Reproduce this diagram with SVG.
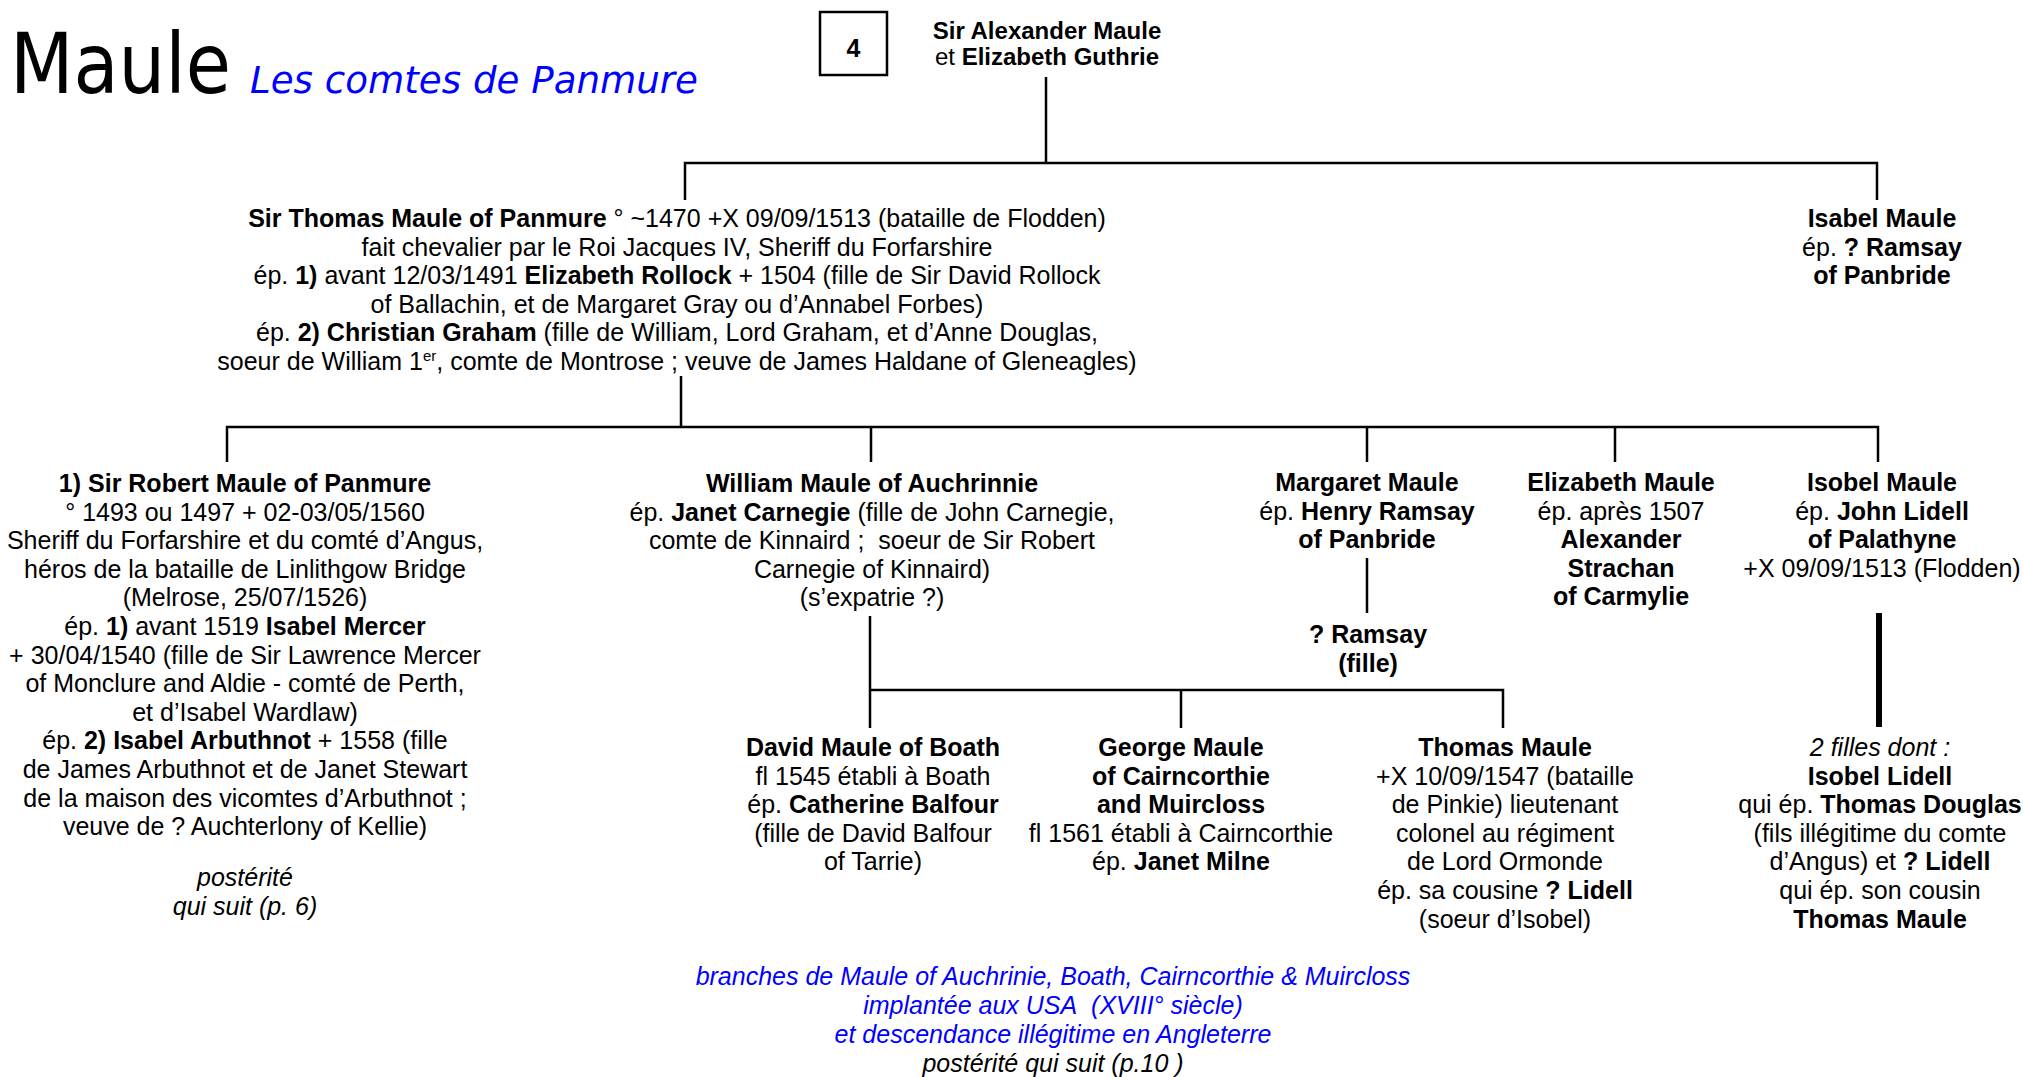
<svg xmlns="http://www.w3.org/2000/svg" width="2023" height="1077" viewBox="0 0 2023 1077">
  <style>
    .t { font-family: "Liberation Sans", Arial, sans-serif; font-size: 25px; text-anchor: middle; fill: #000; }
    .top { font-size: 24px; }
    .b { font-weight: bold; }
    .i { font-style: italic; }
    .blue { fill: #0000FF; }
    .ln { stroke: #000; stroke-width: 2.5; fill: none; }
    .thick { stroke: #000; stroke-width: 6; fill: none; }
    .sup { font-size: 15px; }
  </style>

  <!-- heading -->
  <g id="heading">
    <text x="10" y="93" font-family="'DejaVu Sans', sans-serif" font-size="84" textLength="221" lengthAdjust="spacingAndGlyphs" fill="#000">Maule</text>
    <text x="250" y="93" font-family="'DejaVu Sans', sans-serif" font-size="38" font-style="italic" textLength="448" lengthAdjust="spacingAndGlyphs" fill="#0000FF">Les comtes de Panmure</text>
  </g>

  <!-- page number box -->
  <g id="page-box">
    <rect x="820" y="12" width="67" height="63" fill="none" stroke="#000" stroke-width="2.5"/>
    <text class="t b" x="853.5" y="57" font-size="32">4</text>
  </g>

  <!-- connectors -->
  <g id="connectors">
    <path class="ln" d="M1046,77 V163"/>
    <path class="ln" d="M685,200 V163 H1877 V200"/>
    <path class="ln" d="M681,376 V427"/>
    <path class="ln" d="M227,462 V427 H1878 V462"/>
    <path class="ln" d="M871,427 V462 M1367,427 V462 M1615,427 V462"/>
    <path class="ln" d="M1367,558 V613"/>
    <path class="ln" d="M870,616 V728 M870,690 H1503 V728 M1181,690 V728"/>
    <path class="thick" d="M1879,613 V727"/>
  </g>

  <g id="alexander">
    <text class="t top" x="1047" y="39"><tspan class="b">Sir Alexander Maule</tspan></text>
    <text class="t top" x="1047" y="65">et <tspan class="b">Elizabeth Guthrie</tspan></text>
  </g>

  <g id="thomas-panmure">
    <text class="t" x="677" y="227"><tspan class="b">Sir Thomas Maule of Panmure</tspan> ° ~1470 +X 09/09/1513 (bataille de Flodden)</text>
    <text class="t" x="677" y="255.5">fait chevalier par le Roi Jacques IV, Sheriff du Forfarshire</text>
    <text class="t" x="677" y="284">ép. <tspan class="b">1)</tspan> avant 12/03/1491 <tspan class="b">Elizabeth Rollock</tspan> + 1504 (fille de Sir David Rollock</text>
    <text class="t" x="677" y="312.5">of Ballachin, et de Margaret Gray ou d’Annabel Forbes)</text>
    <text class="t" x="677" y="341">ép. <tspan class="b">2) Christian Graham</tspan> (fille de William, Lord Graham, et d’Anne Douglas,</text>
    <text class="t" x="677" y="369.5">soeur de William 1<tspan class="sup" dy="-9">er</tspan><tspan dy="9">, comte de Montrose ; veuve de James Haldane of Gleneagles)</tspan></text>
  </g>

  <g id="isabel-maule">
    <text class="t b" x="1882" y="227">Isabel Maule</text>
    <text class="t" x="1882" y="255.5">ép. <tspan class="b">? Ramsay</tspan></text>
    <text class="t b" x="1882" y="284">of Panbride</text>
  </g>

  <g id="robert-maule">
    <text class="t b" x="245" y="492">1) Sir Robert Maule of Panmure</text>
    <text class="t" x="245" y="520.6">° 1493 ou 1497 + 02-03/05/1560</text>
    <text class="t" x="245" y="549.2">Sheriff du Forfarshire et du comté d’Angus,</text>
    <text class="t" x="245" y="577.8">héros de la bataille de Linlithgow Bridge</text>
    <text class="t" x="245" y="606.4">(Melrose, 25/07/1526)</text>
    <text class="t" x="245" y="635">ép. <tspan class="b">1)</tspan> avant 1519 <tspan class="b">Isabel Mercer</tspan></text>
    <text class="t" x="245" y="663.6">+ 30/04/1540 (fille de Sir Lawrence Mercer</text>
    <text class="t" x="245" y="692.2">of Monclure and Aldie - comté de Perth,</text>
    <text class="t" x="245" y="720.8">et d’Isabel Wardlaw)</text>
    <text class="t" x="245" y="749.4">ép. <tspan class="b">2) Isabel Arbuthnot</tspan> + 1558 (fille</text>
    <text class="t" x="245" y="778">de James Arbuthnot et de Janet Stewart</text>
    <text class="t" x="245" y="806.6">de la maison des vicomtes d’Arbuthnot ;</text>
    <text class="t" x="245" y="835.2">veuve de ? Auchterlony of Kellie)</text>
    <text class="t i" x="245" y="886">postérité</text>
    <text class="t i" x="245" y="914.5">qui suit (p. 6)</text>
  </g>

  <g id="william-maule">
    <text class="t b" x="872" y="492">William Maule of Auchrinnie</text>
    <text class="t" x="872" y="520.6">ép. <tspan class="b">Janet Carnegie</tspan> (fille de John Carnegie,</text>
    <text class="t" x="872" y="549.2">comte de Kinnaird ;&#160; soeur de Sir Robert</text>
    <text class="t" x="872" y="577.8">Carnegie of Kinnaird)</text>
    <text class="t" x="872" y="606.4">(s’expatrie ?)</text>
  </g>

  <g id="margaret-maule">
    <text class="t b" x="1367" y="491">Margaret Maule</text>
    <text class="t" x="1367" y="519.6">ép. <tspan class="b">Henry Ramsay</tspan></text>
    <text class="t b" x="1367" y="548.2">of Panbride</text>
  </g>

  <g id="ramsay-fille">
    <text class="t b" x="1368" y="643">? Ramsay</text>
    <text class="t b" x="1368" y="671.6">(fille)</text>
  </g>

  <g id="elizabeth-maule">
    <text class="t b" x="1621" y="491">Elizabeth Maule</text>
    <text class="t" x="1621" y="519.6">ép. après 1507</text>
    <text class="t b" x="1621" y="548.2">Alexander</text>
    <text class="t b" x="1621" y="576.8">Strachan</text>
    <text class="t b" x="1621" y="605.4">of Carmylie</text>
  </g>

  <g id="isobel-maule">
    <text class="t b" x="1882" y="491">Isobel Maule</text>
    <text class="t" x="1882" y="519.6">ép. <tspan class="b">John Lidell</tspan></text>
    <text class="t b" x="1882" y="548.2">of Palathyne</text>
    <text class="t" x="1882" y="576.8">+X 09/09/1513 (Flodden)</text>
  </g>

  <g id="david-maule">
    <text class="t b" x="873" y="756">David Maule of Boath</text>
    <text class="t" x="873" y="784.6">fl 1545 établi à Boath</text>
    <text class="t" x="873" y="813.2">ép. <tspan class="b">Catherine Balfour</tspan></text>
    <text class="t" x="873" y="841.8">(fille de David Balfour</text>
    <text class="t" x="873" y="870.4">of Tarrie)</text>
  </g>

  <g id="george-maule">
    <text class="t b" x="1181" y="756">George Maule</text>
    <text class="t b" x="1181" y="784.6">of Cairncorthie</text>
    <text class="t b" x="1181" y="813.2">and Muircloss</text>
    <text class="t" x="1181" y="841.8">fl 1561 établi à Cairncorthie</text>
    <text class="t" x="1181" y="870.4">ép. <tspan class="b">Janet Milne</tspan></text>
  </g>

  <g id="thomas-maule">
    <text class="t b" x="1505" y="756">Thomas Maule</text>
    <text class="t" x="1505" y="784.6">+X 10/09/1547 (bataille</text>
    <text class="t" x="1505" y="813.2">de Pinkie) lieutenant</text>
    <text class="t" x="1505" y="841.8">colonel au régiment</text>
    <text class="t" x="1505" y="870.4">de Lord Ormonde</text>
    <text class="t" x="1505" y="899">ép. sa cousine <tspan class="b">? Lidell</tspan></text>
    <text class="t" x="1505" y="927.6">(soeur d’Isobel)</text>
  </g>

  <g id="lidell-daughters">
    <text class="t i" x="1880" y="756">2 filles dont :</text>
    <text class="t b" x="1880" y="784.6">Isobel Lidell</text>
    <text class="t" x="1880" y="813.2">qui ép. <tspan class="b">Thomas Douglas</tspan></text>
    <text class="t" x="1880" y="841.8">(fils illégitime du comte</text>
    <text class="t" x="1880" y="870.4">d’Angus) et <tspan class="b">? Lidell</tspan></text>
    <text class="t" x="1880" y="899">qui ép. son cousin</text>
    <text class="t b" x="1880" y="927.6">Thomas Maule</text>
  </g>

  <g id="branches-note">
    <text class="t i blue" x="1053" y="985">branches de Maule of Auchrinie, Boath, Cairncorthie &amp; Muircloss</text>
    <text class="t i blue" x="1053" y="1014">implantée aux USA&#160; (XVIII° siècle)</text>
    <text class="t i blue" x="1053" y="1043">et descendance illégitime en Angleterre</text>
    <text class="t i" x="1053" y="1072">postérité qui suit (p.10 )</text>
  </g>
</svg>
